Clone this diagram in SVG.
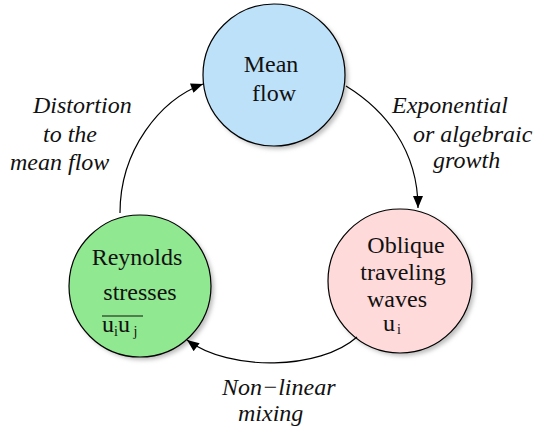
<svg xmlns="http://www.w3.org/2000/svg" width="536" height="426" viewBox="0 0 536 426">
<style>
.node{stroke:#000;stroke-width:1.2}
.shadow{fill:#bdbdbd;filter:url(#blur)}
text{font-family:'Liberation Serif','Times New Roman',Times,serif;fill:#111}
.t{font-size:24px}
.lab{font-size:24px;font-style:italic}
.sub{font-size:14px}
.conn{fill:none;stroke:#000;stroke-width:1.2;marker-end:url(#ah)}
</style>
<defs>
<filter id="blur" x="-20%" y="-20%" width="140%" height="140%"><feGaussianBlur stdDeviation="2"/></filter>
<marker id="ah" viewBox="0 0 12 10" refX="12" refY="5" markerWidth="13" markerHeight="10" markerUnits="userSpaceOnUse" orient="auto">
<path d="M0,0 L12,5 L0,10 Z" fill="#000"/>
</marker>
</defs>
<rect width="536" height="426" fill="#fff"/>
<g id="mean-flow" font-family="Liberation Serif, serif">
<circle class="shadow" cx="277" cy="78" r="71"/>
<circle class="node" cx="274" cy="75" r="71" fill="#bee1fa"/>
<text class="t" x="271" y="72" text-anchor="middle">Mean</text>
<text class="t" x="274" y="101" text-anchor="middle">flow</text>
</g>
<g id="reynolds-stresses" font-family="Liberation Serif, serif">
<circle class="shadow" cx="143" cy="289" r="71"/>
<circle class="node" cx="140" cy="286" r="71" fill="#90e890"/>
<text class="t" x="137" y="265" text-anchor="middle">Reynolds</text>
<text class="t" x="140" y="300" text-anchor="middle">stresses</text>
<line x1="102" y1="316" x2="143" y2="316" stroke="#111" stroke-width="1.2"/>
<text class="t" x="102" y="332">u<tspan class="sub" dy="4">i</tspan><tspan dy="-4">u</tspan><tspan class="sub" dy="4"> j</tspan></text>
</g>
<g id="oblique-waves" font-family="Liberation Serif, serif">
<circle class="shadow" cx="403" cy="284" r="72"/>
<circle class="node" cx="400" cy="281" r="72" fill="#ffdada"/>
<text class="t" x="406" y="253" text-anchor="middle">Oblique</text>
<text class="t" x="403" y="280" text-anchor="middle">traveling</text>
<text class="t" x="397" y="307" text-anchor="middle">waves</text>
<text class="t" x="383" y="331">u<tspan class="sub" dy="3" dx="2">i</tspan></text>
</g>
<g id="connectors">
<path class="conn" d="M120,213 C120,150 160,100 203,84"/>
<path class="conn" d="M346,86 C385,110 418,150 418,208"/>
<path class="conn" d="M357,337 C320,370 230,372 187,340"/>
</g>
<g id="labels" font-family="Liberation Serif, serif">
<text class="lab" x="33" y="113">Distortion</text>
<text class="lab" x="43" y="142">to the</text>
<text class="lab" x="10" y="170">mean flow</text>
<text class="lab" x="392" y="113">Exponential</text>
<text class="lab" x="413" y="142">or algebraic</text>
<text class="lab" x="433" y="168">growth</text>
<text class="lab" x="222" y="395">Non−linear</text>
<text class="lab" x="238" y="421">mixing</text>
</g>
</svg>
